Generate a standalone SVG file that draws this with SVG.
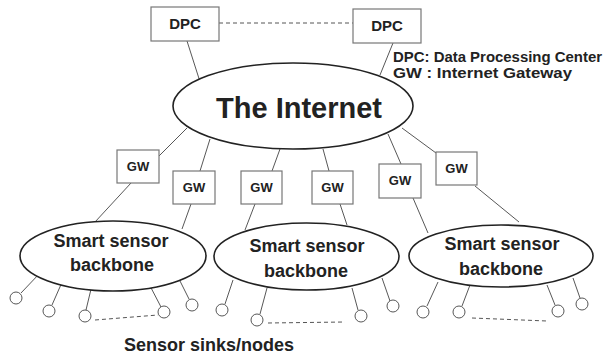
<svg xmlns="http://www.w3.org/2000/svg" width="605" height="357" viewBox="0 0 605 357">
<style>
.box{fill:#fff;stroke:#777;stroke-width:1.2}
.ell{fill:#fff;stroke:#222;stroke-width:1.6}
.ln{stroke:#444;stroke-width:0.9;fill:none}
.dash{stroke:#555;stroke-width:1;fill:none;stroke-dasharray:4,3}
.node{fill:#fff;stroke:#444;stroke-width:0.9}
.t{font-family:"Liberation Sans",Arial,sans-serif;font-weight:bold;fill:#222;text-anchor:middle}
.lbl{font-size:15px}
.gw{font-size:13px}
.bb{font-size:18px}
.leg{font-size:14px;text-anchor:start}
</style>
<rect width="605" height="357" fill="#fff"/>
<g id="connectors">
<line class="dash" x1="219" y1="23" x2="353" y2="23"/>
<line class="ln" x1="187" y1="41" x2="202" y2="88"/>
<line class="ln" x1="393" y1="43" x2="380" y2="75"/>
<line class="ln" x1="187" y1="128" x2="159" y2="156"/>
<line class="ln" x1="210" y1="139" x2="200" y2="171"/>
<line class="ln" x1="280" y1="149" x2="272" y2="171"/>
<line class="ln" x1="323" y1="149" x2="329" y2="171"/>
<line class="ln" x1="388" y1="134" x2="401" y2="164"/>
<line class="ln" x1="402" y1="128" x2="436" y2="153"/>
<line class="ln" x1="131" y1="183" x2="95" y2="222"/>
<line class="ln" x1="191" y1="204" x2="182" y2="229"/>
<line class="ln" x1="255" y1="204" x2="245" y2="230"/>
<line class="ln" x1="340" y1="204" x2="347" y2="225"/>
<line class="ln" x1="413" y1="198" x2="428" y2="233"/>
<line class="ln" x1="475" y1="186" x2="519" y2="222"/>
<line class="ln" x1="21" y1="293" x2="40" y2="273"/>
<line class="ln" x1="52" y1="305" x2="63" y2="280"/>
<line class="ln" x1="86" y1="310" x2="92" y2="285"/>
<line class="ln" x1="161" y1="307" x2="148" y2="282"/>
<line class="ln" x1="189" y1="299" x2="177" y2="275"/>
<line class="dash" x1="95" y1="320" x2="158" y2="315"/>
<line class="ln" x1="225" y1="304" x2="233" y2="280"/>
<line class="ln" x1="260" y1="314" x2="267" y2="288"/>
<line class="ln" x1="358" y1="310" x2="352" y2="288"/>
<line class="ln" x1="390" y1="301" x2="382" y2="278"/>
<line class="dash" x1="268" y1="323" x2="345" y2="322"/>
<line class="ln" x1="427" y1="306" x2="438" y2="282"/>
<line class="ln" x1="462" y1="306" x2="470" y2="285"/>
<line class="ln" x1="555" y1="305" x2="547" y2="285"/>
<line class="ln" x1="580" y1="298" x2="573" y2="278"/>
<line class="dash" x1="472" y1="318" x2="547" y2="321"/>
</g>
<g id="dpc1"><rect class="box" x="151" y="7" width="68" height="34"/><text class="t lbl" x="185" y="29">DPC</text></g>
<g id="dpc2"><rect class="box" x="353" y="9" width="68" height="34"/><text class="t lbl" x="387" y="31">DPC</text></g>
<g id="legend">
<text class="t leg" x="393" y="62" textLength="209" lengthAdjust="spacingAndGlyphs">DPC: Data Processing Center</text>
<text class="t leg" x="393" y="78" textLength="179" lengthAdjust="spacingAndGlyphs">GW :  Internet Gateway</text>
</g>
<g id="internet"><ellipse class="ell" cx="293" cy="106" rx="120" ry="43"/><text class="t" style="font-size:29px" x="299" y="118">The Internet</text></g>
<g id="gw1"><rect class="box" x="117" y="150" width="42" height="33"/><text class="t gw" x="138" y="171">GW</text></g>
<g id="gw2"><rect class="box" x="173" y="171" width="42" height="33"/><text class="t gw" x="194" y="192">GW</text></g>
<g id="gw3"><rect class="box" x="241" y="171" width="41" height="33"/><text class="t gw" x="261.5" y="192">GW</text></g>
<g id="gw4"><rect class="box" x="312" y="171" width="41" height="33"/><text class="t gw" x="332.5" y="192">GW</text></g>
<g id="gw5"><rect class="box" x="379" y="164" width="42" height="34"/><text class="t gw" x="400" y="185">GW</text></g>
<g id="gw6"><rect class="box" x="436" y="152" width="41" height="33"/><text class="t gw" x="456.5" y="173">GW</text></g>
<g id="backbone1"><ellipse class="ell" cx="113" cy="256" rx="93" ry="35"/><text class="t bb" x="111" y="247">Smart sensor</text><text class="t bb" x="112" y="271">backbone</text></g>
<g id="backbone2"><ellipse class="ell" cx="306.5" cy="256.5" rx="92.5" ry="33.5"/><text class="t bb" x="307" y="252">Smart sensor</text><text class="t bb" x="306" y="277">backbone</text></g>
<g id="backbone3"><ellipse class="ell" cx="501" cy="256" rx="92" ry="31"/><text class="t bb" x="502" y="250">Smart sensor</text><text class="t bb" x="501" y="275">backbone</text></g>
<g id="nodes">
<circle class="node" cx="16" cy="298" r="6"/>
<circle class="node" cx="49" cy="311" r="6"/>
<circle class="node" cx="85" cy="316" r="6"/>
<circle class="node" cx="164" cy="312" r="6"/>
<circle class="node" cx="192" cy="305" r="6"/>
<circle class="node" cx="222" cy="310" r="6"/>
<circle class="node" cx="257" cy="320" r="6"/>
<circle class="node" cx="361" cy="316" r="6"/>
<circle class="node" cx="393" cy="306" r="6"/>
<circle class="node" cx="423" cy="312" r="6"/>
<circle class="node" cx="459" cy="312" r="6"/>
<circle class="node" cx="558" cy="311" r="6"/>
<circle class="node" cx="582" cy="304" r="6"/>
</g>
<g id="caption"><text class="t" style="font-size:18px" x="209" y="351">Sensor sinks/nodes</text></g>
</svg>
